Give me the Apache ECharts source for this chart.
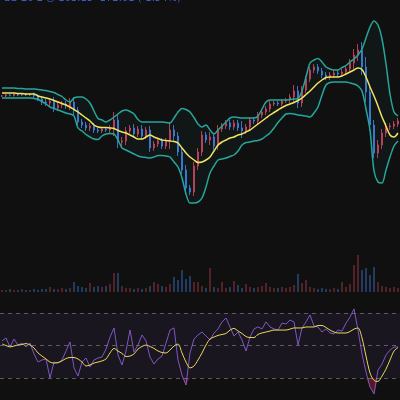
<!DOCTYPE html>
<html><head><meta charset="utf-8">
<script src="https://cdn.jsdelivr.net/npm/echarts@6/dist/echarts.min.js"></script>
<style>html,body{margin:0;padding:0;background:#101010;}#c{width:400px;height:400px;}</style>
</head><body><div id="c"></div>
<script>
const closes = [204,205,204.5,206,205,206,205,205.5,204,201,
198,197,199,192,195,196,194,198,190,178,
175,172,174,170,169,171,170,172,180,158,
159,169,172,166,171,164,170,152,156,159,
154,159,170,164,148,130,112,108,134,148,
165,160,163,154,171,174,177,173,177,172,
169,173,180,179,185,188,191,196,197,196,
199,200,203,209,197,210,221,230,233,229,
225,223,225,227,226,228,231,237,245,250,
233,208,175,147,155,167,173,174,176,179];
const wicks = [1,1,1,1,1,1,1,1,2,2,
3,3,3,4,3,3,3,4,5,3,
3,3,3,3,2,2,2,3,8,6,
4,4,3,4,3,4,3,4,3,3,
3,3,8,5,4,4,5,3,4,4,
4,3,5,4,4,3,3,3,3,3,
7,3,3,3,3,3,3,3,2,2,
2,2,3,6,5,4,3,3,3,3,
3,3,3,3,3,3,3,4,6,6,
8,10,6,5,5,4,4,3,3,3];
const bbMid = [207,207,207,207,206.5,206.5,206,206,206,204,
203,202,201,199.5,198,196.5,195,193,190.5,188,
185,182,179,175,173,172.5,172.5,172,171.5,169.5,
168,167,165,163,161,161,163,165,163,161.5,
160,159.5,159,158.5,157,152,147,143,140,137.5,
138,140,143,149,155,158,160,162,163,165,
166,168,170,173,176,179,182,185,187.5,190,
192.5,194.5,196,197.5,199.5,202,205.5,209,213,217,
220,222.5,223,223,223,224,226,228,230,232,
230.5,223,213,204,194,183,174,165,163,167];
const bbUpper = [212,212,212,212,211.5,211.5,211,211,211,210.5,
210,209.5,208.5,207.5,205.5,203.5,200,198,202,203,
203,201,197,189,181.5,180,178,180,183,186,
189,190,188.5,186,180.5,178,178,178,178,178,
178,177.5,177,182,188,191.5,190.5,188,182.5,176,
173,175,170,166,170,174,178,182,183,182.5,
182,182,182,182,184,191,198,200,200,200,
200,200,200.5,201,201.5,209,223,237,240,241.5,
238,233,231,230,230,232.5,234.5,238,241,245,
251,262,273,279,275,261,236,206,188,184];
const bbLower = [202,202,202,202,202,202,202,202,201.5,200.5,
198.5,196,193,191.5,190,188.5,187,186,184,172,
169,165.5,163,161,160.5,164,166,166.5,166,160,
152,150,148,146,144,143,142.5,142,143,144.5,
144.5,144,143,138,133,122,106,97,97,98,
102,113,127,134,140,141,142,143.5,145,149,
155,157.5,158,159,159.5,161,164,167,172,177.5,
182,186,186.5,186,185,184.5,184,183,187,193,
205,215,217.5,218,218,218,218,217,216,214,
209,191,170,129,118,117,130,143,154,159];
const volumes = [2,2,3,2,2,3,2,2,3,2,
3,3,5,3,3,4,3,4,10,6,
5,4,9,5,6,5,6,8,19,19,
6,4,4,3,4,3,4,6,10,8,
6,5,8,15,12,22,13,16,10,10,
6,4,24,5,4,10,4,5,11,7,
4,8,5,4,5,6,9,5,4,4,
5,4,5,7,18,9,12,5,4,3,
4,3,3,4,3,10,5,8,27,37,
22,24,17,25,10,6,5,4,5,4];
const rsi = [52.8,54.6,49.1,54.0,50.3,51.5,49.1,51.5,44.8,39.8,
41.1,41.7,30.0,39.8,39.2,41.1,46.6,52.2,36.2,31.2,
39.8,42.3,36.8,41.1,42.3,42.9,47.8,55.2,60.8,44.2,
38.0,46.6,59.5,46.0,50.3,56.5,52.8,42.9,38.6,41.7,
43.5,51.5,59.5,60.8,41.1,31.8,25.7,45.4,54.0,56.5,
58.3,55.8,53.4,57.7,60.2,64.5,66.9,61.4,55.8,58.3,
53.4,46.6,55.2,60.2,61.4,60.2,64.5,61.4,60.2,59.5,
63.8,63.2,65.7,64.5,50.3,60.8,64.5,68.8,62.0,61.4,
58.3,60.2,57.7,57.1,59.5,58.9,63.8,67.5,72.5,59.5,
44.8,33.7,24.5,20.2,34.9,38.6,44.2,47.2,49.1,49.1];
const rsiMA = [50.9,50.0,49.1,49.7,50.3,50.6,51.2,50.3,48.5,45.4,
43.5,41.7,39.8,39.2,39.5,40.5,42.0,42.6,42.6,41.7,
39.8,37.4,38.0,39.2,39.8,40.5,41.7,45.4,48.2,46.6,
45.1,43.2,43.5,44.8,47.8,49.4,50.3,49.4,48.2,46.6,
45.7,45.4,47.2,49.7,50.9,45.4,39.8,36.2,37.4,41.1,
45.4,50.3,54.0,55.2,56.2,56.8,57.4,59.5,60.5,58.9,
57.4,55.5,54.9,54.9,56.8,57.7,58.3,58.9,59.5,59.5,
59.5,59.5,60.1,60.8,60.8,60.8,61.4,61.4,61.4,62.3,
62.3,61.1,59.5,58.3,57.7,57.7,57.7,58.6,60.1,60.8,
54.6,43.5,33.1,28.5,27.9,31.2,35.5,41.1,46.6,48.8];
const rsiLevels = [70, 50, 30];

const UP = '#c8435a', DOWN = '#3d7ddc';
const cats = closes.map((_, i) => i);
const ohlc = closes.map((c, i) => {
  const o = i === 0 ? c : closes[i - 1];
  return [o, c, Math.min(o, c) - wicks[i], Math.max(o, c) + wicks[i]];
});
const volData = volumes.map((v, i) => ({
  value: v,
  itemStyle: { color: ohlc[i][1] >= ohlc[i][0] ? 'rgba(200,67,90,0.36)' : 'rgba(61,125,220,0.4)' }
}));
const bandWidth = bbUpper.map((u, i) => u - bbLower[i]);
const rsiLow = rsi.map(r => Math.min(r, 30));

const chart = echarts.init(document.getElementById('c'));
const xa = (gi) => ({ type: 'category', data: cats, gridIndex: gi, boundaryGap: true, show: false });
chart.setOption({
  backgroundColor: '#101010',
  animation: false,
  graphic: [{
    type: 'text', left: 4, top: -7,
    style: { text: 'BB 20 2 \u25CE 163.15  172.61 (-1.54%)', fill: '#3560c8', font: '10px "DejaVu Sans"' }
  }],
  grid: [
    { left: 0, right: 0, top: 0, height: 250 },
    { left: 0, right: 0, top: 250, height: 42 },
    { left: 0, right: 0, top: 280.5, height: 119.5 }
  ],
  xAxis: [xa(0), xa(1), xa(2)],
  yAxis: [
    { type: 'value', gridIndex: 0, min: 50, max: 300, show: false, splitLine: { show: false } },
    { type: 'value', gridIndex: 1, min: 0, max: 42, show: false, splitLine: { show: false } },
    { type: 'value', gridIndex: 2, min: 16.46, max: 90, show: false, splitLine: { show: false } }
  ],
  series: [
    { type: 'line', data: bbLower, xAxisIndex: 0, yAxisIndex: 0, stack: 'bb', symbol: 'none',
      lineStyle: { width: 0 }, silent: true },
    { type: 'line', data: bandWidth, xAxisIndex: 0, yAxisIndex: 0, stack: 'bb', symbol: 'none',
      lineStyle: { width: 0 }, areaStyle: { color: 'rgba(38,166,154,0.07)' }, silent: true },
    { type: 'candlestick', data: ohlc, xAxisIndex: 0, yAxisIndex: 0, barWidth: 2,
      itemStyle: { color: UP, color0: DOWN, borderColor: UP, borderColor0: DOWN, borderWidth: 1, opacity: 0.9 } },
    { type: 'line', data: bbUpper, xAxisIndex: 0, yAxisIndex: 0, symbol: 'none', smooth: 0.3,
      lineStyle: { color: '#26a69a', width: 1.5 } },
    { type: 'line', data: bbLower, xAxisIndex: 0, yAxisIndex: 0, symbol: 'none', smooth: 0.3,
      lineStyle: { color: '#26a69a', width: 1.5 } },
    { type: 'line', data: bbMid, xAxisIndex: 0, yAxisIndex: 0, symbol: 'none', smooth: 0.3,
      lineStyle: { color: '#f2e35e', width: 1.5 } },
    { type: 'bar', data: volData, xAxisIndex: 1, yAxisIndex: 1, barWidth: 2 },
    { type: 'line', data: rsiLow, xAxisIndex: 2, yAxisIndex: 2, symbol: 'none',
      lineStyle: { width: 0 }, areaStyle: { origin: 30, color: 'rgba(200,40,60,0.55)' }, silent: true },
    { type: 'line', data: rsi, xAxisIndex: 2, yAxisIndex: 2, symbol: 'none',
      lineStyle: { color: '#7e57c2', width: 1 },
      markArea: { silent: true, itemStyle: { color: 'rgba(126,87,194,0.09)' }, data: [[{ yAxis: 30 }, { yAxis: 70 }]] },
      markLine: { silent: true, symbol: 'none', label: { show: false },
        lineStyle: { color: 'rgba(150,150,160,0.55)', type: [4, 4], width: 1 },
        data: rsiLevels.map(v => ({ yAxis: v })) } },
    { type: 'line', data: rsiMA, xAxisIndex: 2, yAxisIndex: 2, symbol: 'none', smooth: 0.3,
      lineStyle: { color: '#e8d85a', width: 1 } }
  ]
});
</script></body></html>
